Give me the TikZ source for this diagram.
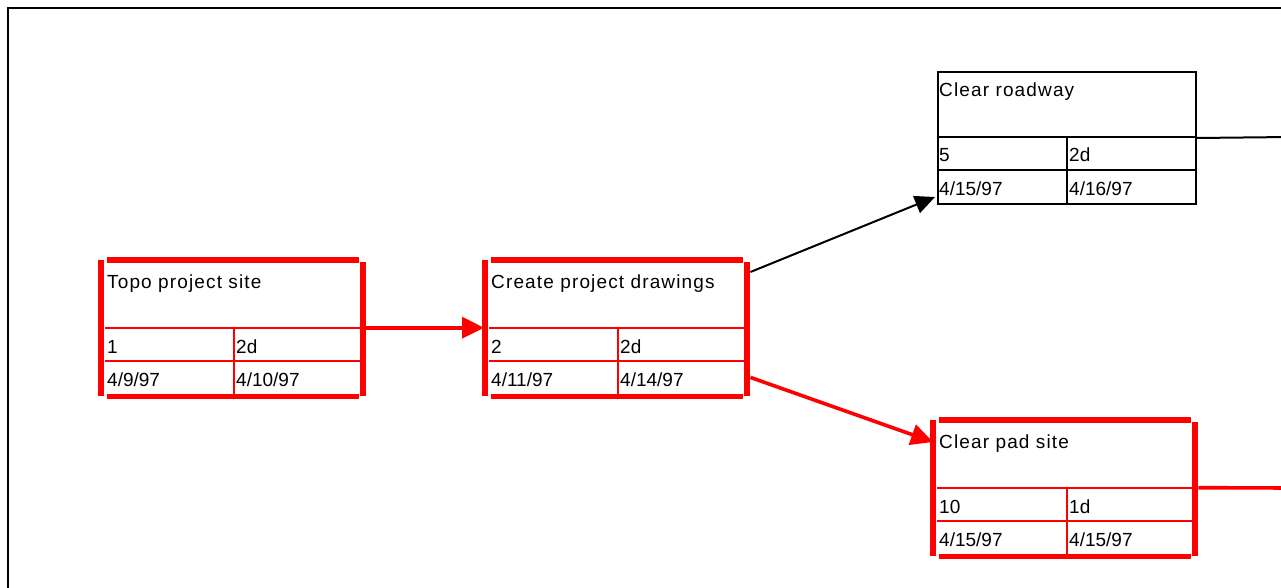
\documentclass[tikz,border=0pt]{standalone}
\usepackage{fontspec}
\setmainfont{Liberation Sans}
\usepackage{tikz}
\usetikzlibrary{arrows.meta,calc}

\begin{document}
\begin{tikzpicture}[x=1pt,y=1pt]
\tikzstyle{every node}+=[inner sep=0pt]
\tikzstyle{crit}=[draw=red, line width=2.4pt]
\tikzstyle{critbar}=[draw=red, line width=5.6pt]
\tikzstyle{norm}=[draw=black, line width=2pt]
\tikzstyle{taskbox}=[rectangle, minimum width=255pt, minimum height=133pt, anchor=north west]
\tikzstyle{tasktitle}=[anchor=base west, font=\fontsize{19}{22}\selectfont\addfontfeature{LetterSpace=6}]
\tikzstyle{taskcell}=[anchor=base west, font=\fontsize{19}{22}\selectfont]
\tikzstyle{critlink}=[draw=red, line width=3.6pt, -{Triangle[length=22pt,width=21pt]}]
\tikzstyle{normlink}=[draw=black, line width=2pt, -{Triangle[length=20pt,width=18pt]}]
\useasboundingbox (0,0) rectangle (1281,-588);
% frame
\draw [black, line width=2.2pt] (8,-600) -- (8,-8) -- (1290,-8);
% Topo project site
\begin{scope}[shift={(105,-261)}]
\node [taskbox] (topo) at (0,0) {};
\draw [crit] (0,-67) -- (255,-67) (0,-100) -- (255,-100) (129,-67) -- (129,-134);
\draw [critbar] (2,1) -- (254,1) (2,-135.5) -- (254,-135.5) (-4,1) -- (-4,-135) (258,-1) -- (258,-135);
\node [tasktitle] (topo-name) at (2,-27) {Topo project site};
\node [taskcell] (topo-id) at (2,-92) {1};
\node [taskcell] (topo-dur) at (131,-92) {2d};
\node [taskcell] (topo-start) at (2,-125) {4/9/97};
\node [taskcell] (topo-end) at (131,-125) {4/10/97};
\end{scope}
% Create project drawings
\begin{scope}[shift={(489,-261)}]
\node [taskbox] (draw) at (0,0) {};
\draw [crit] (0,-67) -- (255,-67) (0,-100) -- (255,-100) (129,-67) -- (129,-134);
\draw [critbar] (2,1) -- (254,1) (2,-135.5) -- (254,-135.5) (-4,1) -- (-4,-135) (258,-1) -- (258,-135);
\node [tasktitle] (draw-name) at (2,-27) {Create project drawings};
\node [taskcell] (draw-id) at (2,-92) {2};
\node [taskcell] (draw-dur) at (131,-92) {2d};
\node [taskcell] (draw-start) at (2,-125) {4/11/97};
\node [taskcell] (draw-end) at (131,-125) {4/14/97};
\end{scope}
% Clear roadway
\begin{scope}[shift={(937,-71)}]
\node [taskbox, norm, minimum width=258pt, minimum height=132pt] (road) at (0,0) {};
\draw [norm] (0,-66) -- (258,-66) (0,-99) -- (258,-99) (130,-66) -- (130,-132);
\node [tasktitle] (road-name) at (2,-26) {Clear roadway};
\node [taskcell] (road-id) at (2,-90) {5};
\node [taskcell] (road-dur) at (132,-90) {2d};
\node [taskcell] (road-start) at (2,-124) {4/15/97};
\node [taskcell] (road-end) at (132,-124) {4/16/97};
\end{scope}
% Clear pad site
\begin{scope}[shift={(937,-421)}]
\node [taskbox] (pad) at (0,0) {};
\draw [crit] (0,-67) -- (255,-67) (0,-100) -- (255,-100) (130,-67) -- (130,-134);
\draw [critbar] (2,1) -- (254,1) (2,-135.5) -- (254,-135.5) (-4,1) -- (-4,-135) (258,-1) -- (258,-135);
\node [tasktitle] (pad-name) at (2,-27) {Clear pad site};
\node [taskcell] (pad-id) at (2,-92) {10};
\node [taskcell] (pad-dur) at (132,-92) {1d};
\node [taskcell] (pad-start) at (2,-125) {4/15/97};
\node [taskcell] (pad-end) at (132,-125) {4/15/97};
\end{scope}
% links
\coordinate (road-out) at (1290,-137);
\coordinate (pad-out) at (1290,-488);
\draw [critlink, shorten >=5pt] (topo.east) -- (draw.west);
\draw [normlink] ($(draw.north east)+(6,-11)$) -- ($(road.south west)+(-2,8)$);
\draw [critlink] ($(draw.south east)+(6,17)$) -- ($(pad.north west)+(-4,-21)$);
\draw [black, line width=2pt] (road.east) -- (road-out);
\draw [red, line width=3.6pt] ($(pad.east)+(6,0)$) -- (pad-out);
\end{tikzpicture}
\end{document}
